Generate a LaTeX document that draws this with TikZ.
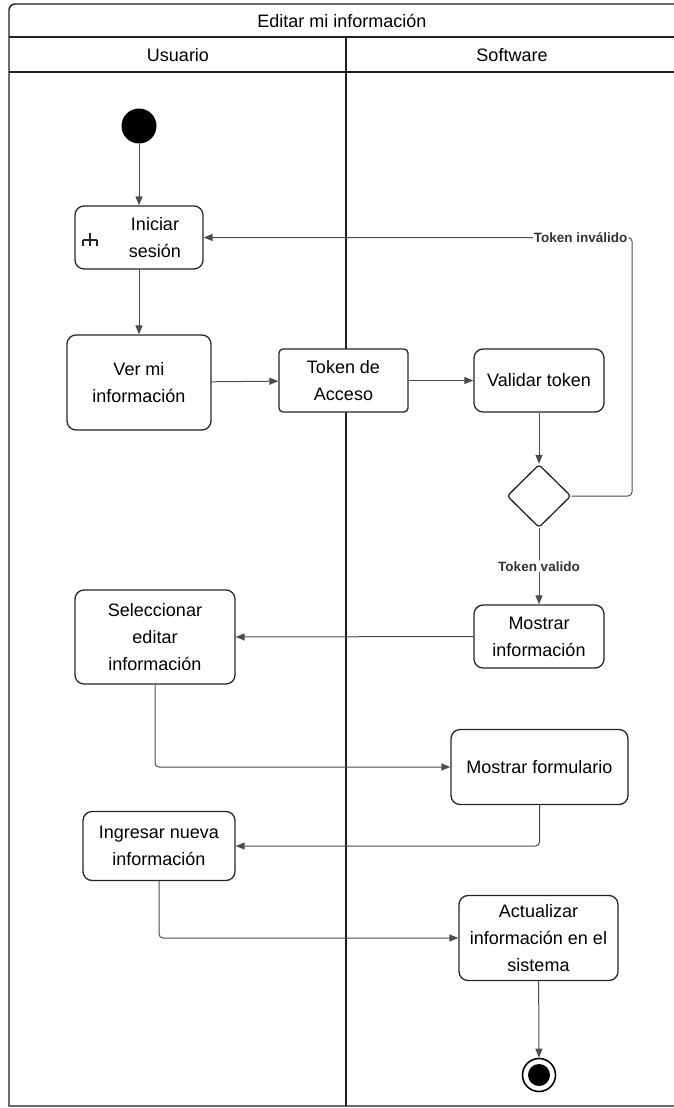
\documentclass[tikz,border=0pt]{standalone}
\usepackage{fontspec}
\setmainfont{Liberation Sans}
\usetikzlibrary{shapes.geometric,arrows.meta}
\begin{document}
\begin{tikzpicture}[x=1pt,y=-1pt,
  frame/.style={draw=black!88, line width=1.4pt},
  act/.style={draw=black!85, line width=1.3pt, rounded corners=9pt, fill=white,
    align=center, font=\fontsize{18}{27}\selectfont, inner sep=0pt},
  txt/.style={align=center, font=\fontsize{18}{27}\selectfont, inner sep=0pt},
  flow/.style={draw=black!70, line width=1pt, rounded corners=4pt,
    -{Triangle[length=9pt,width=7pt]}},
  lbl/.style={font=\fontsize{13.5}{16}\selectfont\bfseries, fill=white,
    inner sep=1pt, text=black!80}
]
\useasboundingbox (0,0) rectangle (673,1108);

% swimlane frame (only the top-left corner is rounded)
\draw[frame] (690,4) -- (15,4) arc[start angle=90, end angle=180, radius=6pt]
  -- (9,1106) -- (690,1106);
\draw[frame] (9,37) -- (690,37);
\draw[frame] (9,72) -- (690,72);
\draw[frame] (346,37) -- (346,1106);
\node[txt] (title) at (342,20.5) {Editar mi información};
\node[txt] (laneU) at (178,55) {Usuario};
\node[txt] (laneS) at (512,55) {Software};

% activities
\node[circle, fill=black, minimum size=35pt, inner sep=0pt] (start) at (139,126) {};
\node[act, minimum width=128pt, minimum height=63pt] (ini) at (139,237.5) {};
\node[txt] (initxt) at (155,237.5) {Iniciar\\sesión};
\draw[black!85, line width=1.1pt] (83,240) -- (97,240)
  (90,233) -- (90,246) (83,240) -- (83,246) (97,240) -- (97,246);
\node[act, minimum width=144pt, minimum height=95pt] (ver) at (139,382.5) {Ver mi\\información};
\node[act, rounded corners=4pt, minimum width=129pt, minimum height=63pt] (tok) at (343.5,380.5) {Token de\\Acceso};
\node[act, minimum width=130pt, minimum height=63pt] (val) at (539,380.5) {Validar token};
\node[diamond, draw=black!85, line width=1.3pt, rounded corners=3pt, fill=white,
  minimum width=64pt, minimum height=63pt, inner sep=0pt] (dec) at (539,496) {};
\node[act, minimum width=130pt, minimum height=63pt] (mi) at (539,636.5) {Mostrar\\información};
\node[act, minimum width=160pt, minimum height=94pt] (sel) at (155,637) {Seleccionar\\editar\\información};
\node[act, minimum width=177pt, minimum height=75pt] (mf) at (539.5,767) {Mostrar formulario};
\node[act, minimum width=152pt, minimum height=69pt] (ing) at (159,846) {Ingresar nueva\\información};
\node[act, minimum width=159pt, minimum height=85pt] (act) at (538.5,938) {Actualizar\\información en el\\sistema};
\node[circle, draw=black, line width=1.6pt, fill=white, minimum size=33pt, inner sep=0pt] (end) at (539,1075) {};
\node[circle, fill=black, minimum size=22pt, inner sep=0pt] (endin) at (end.center) {};

% flows
\coordinate (loop) at (632,237.5);
\draw[flow] (start) -- (ini);
\draw[flow] (ini) -- (ver);
\draw[flow] (ver) -- (tok);
\draw[flow] (tok) -- (val);
\draw[flow] (val) -- (dec);
\draw[flow] (dec.east) -| (loop) -- node[lbl, pos=0.12] {Token inválido} (ini.east);
\draw[flow] (dec.south) -- node[lbl] {Token valido} (mi.north);
\draw[flow] (mi.west) -- (sel.east);
\draw[flow] (sel.south) |- (mf.west);
\draw[flow] (mf.south) |- (ing.east);
\draw[flow] (ing.south) |- (act.west);
\draw[flow] (act) -- (end);
\end{tikzpicture}
\end{document}
